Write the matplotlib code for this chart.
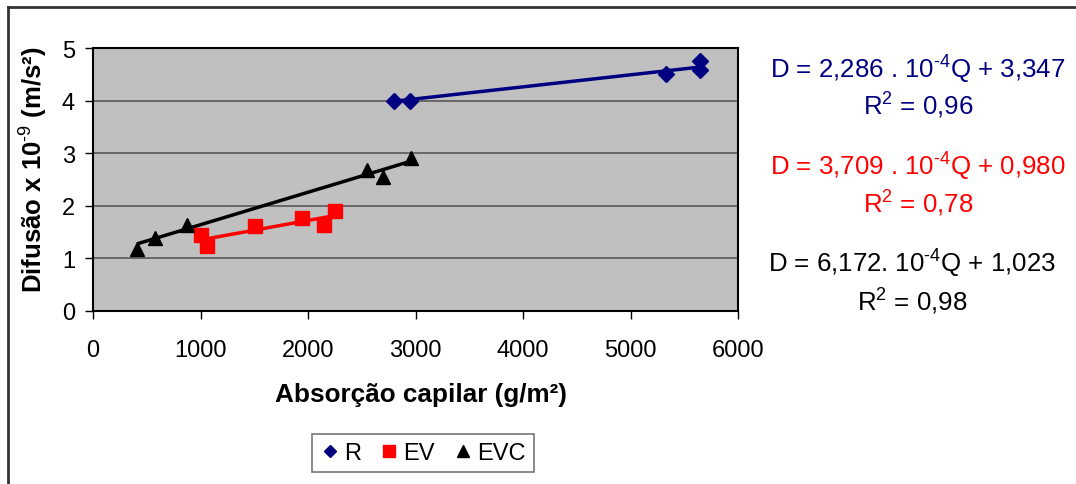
import matplotlib
matplotlib.use("Agg")
import matplotlib.pyplot as plt
from matplotlib.lines import Line2D

plt.rcParams['font.family'] = ['Liberation Sans', 'DejaVu Sans']
plt.rcParams['mathtext.fontset'] = 'custom'
plt.rcParams['mathtext.rm'] = 'Liberation Sans'
plt.rcParams['mathtext.it'] = 'Liberation Sans:italic'
plt.rcParams['mathtext.bf'] = 'Liberation Sans:bold'

# Data
r_x = [2800, 2950, 5333, 5643, 5643]
r_y = [4.00, 4.00, 4.51, 4.75, 4.59]
ev_x = [1008, 1063, 1510, 1941, 2145, 2255]
ev_y = [1.45, 1.24, 1.61, 1.76, 1.64, 1.91]
evc_x = [412, 576, 875, 2549, 2702, 2961]
evc_y = [1.18, 1.38, 1.64, 2.68, 2.55, 2.90]

# Trend-line coefficients (slope in 1e-4 units, intercept)
r_fit = (2.286, 3.347)
ev_fit = (3.709, 0.980)
evc_fit = (6.172, 1.023)

eq_texts = [
    (r"D = 2,286 . 10$^{\text{-4}}$Q + 3,347", r"R$^{2}$ = 0,96", "#000080"),
    (r"D = 3,709 . 10$^{\text{-4}}$Q + 0,980", r"R$^{2}$ = 0,78", "#FF0000"),
    (r"D = 6,172. 10$^{\text{-4}}$Q + 1,023", r"R$^{2}$ = 0,98", "#000000"),
]

x_ticks = [0, 1000, 2000, 3000, 4000, 5000, 6000]
y_ticks = [0, 1, 2, 3, 4, 5]

W, H = 1076, 485
fig = plt.figure(figsize=(W / 100, H / 100), dpi=100)
ax = fig.add_axes([93 / W, 1 - 312 / H, 645 / W, 263 / H])
ax.set_facecolor('#C0C0C0')

for y in y_ticks[1:-1]:
    ax.axhline(y, color='#606060', lw=1.3, zorder=1)

def fitline(xs, fit):
    x0, x1 = min(xs), max(xs)
    return [x0, x1], [fit[0] * 1e-4 * x0 + fit[1], fit[0] * 1e-4 * x1 + fit[1]]

for xs, fit, c in [(r_x, r_fit, '#000080'), (ev_x, ev_fit, '#FF0000'), (evc_x, evc_fit, '#000000')]:
    lx, ly = fitline(xs, fit)
    ax.plot(lx, ly, color=c, lw=2.5, zorder=2, solid_capstyle='butt')

ax.plot(r_x, r_y, 'D', color='#000080', ms=8.5, ls='none', zorder=3)
ax.plot(ev_x, ev_y, 's', color='#FF0000', ms=10, ls='none', zorder=3)
ax.plot(evc_x, evc_y, '^', color='#000000', ms=10.5, ls='none', zorder=3)

ax.set_xlim(0, 6000)
ax.set_ylim(0, 5)
ax.set_xticks(x_ticks)
ax.set_yticks(y_ticks)
ax.tick_params(axis='both', direction='out', length=6, width=1, labelsize=17, colors='black')
ax.tick_params(axis='x', pad=14)
ax.tick_params(axis='y', pad=7)
for s in ax.spines.values():
    s.set_linewidth(1.5)
    s.set_color('black')

fig.text(421 / W, 1 - 395 / H, 'Absorção capilar (g/m²)', ha='center', va='center',
         fontsize=18.8, fontweight='bold')
fig.text(34 / W, 1 - 170 / H, r'Difusão x 10$^{\mathbf{\text{-9}}}$ (m/s²)', ha='center', va='center',
         rotation=90, fontsize=18.5, fontweight='bold')

ys = [(70, 106), (167, 204), (264, 302)]
xs_c = [918, 918, 912]
for (eq, r2, c), (y1, y2), xc in zip(eq_texts, ys, xs_c):
    fig.text(xc / W, 1 - y1 / H, eq, ha='center', va='center', fontsize=18.6, color=c)
    fig.text(xc / W, 1 - y2 / H, r2, ha='center', va='center', fontsize=18.6, color=c)

handles = [
    Line2D([], [], marker='D', color='#000080', ls='none', ms=6.5),
    Line2D([], [], marker='s', color='#FF0000', ls='none', ms=8.5),
    Line2D([], [], marker='^', color='#000000', ls='none', ms=9),
]
leg = fig.legend(handles, ['R', 'EV', 'EVC'], loc='center', bbox_to_anchor=(423 / W, 1 - 454 / H),
                 ncol=3, fontsize=17, frameon=True, fancybox=False, edgecolor='#555555',
                 handlelength=0.8, handletextpad=0.2, columnspacing=0.8, borderpad=0.35)
leg.get_frame().set_linewidth(1.2)

# partial outer border (top and left)
fig.add_artist(Line2D([8 / W, 1], [1 - 8 / H, 1 - 8 / H], color='#333333', lw=2, transform=fig.transFigure))
fig.add_artist(Line2D([8 / W, 8 / W], [0, 1 - 8 / H], color='#333333', lw=2, transform=fig.transFigure))

fig.savefig('out.png', dpi=100)
